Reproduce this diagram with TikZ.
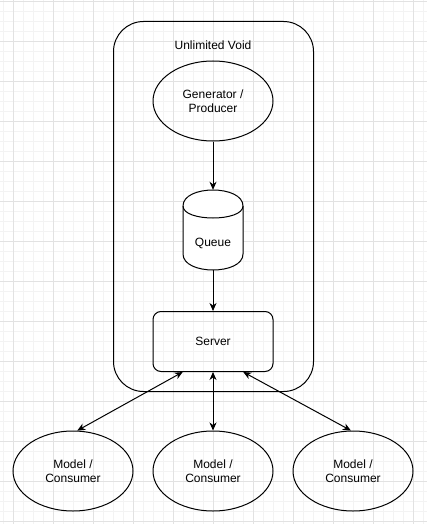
\documentclass[tikz,border=0pt]{standalone}
\usepackage{fontspec}
\setmainfont{Liberation Sans}
\usetikzlibrary{shapes.geometric,arrows.meta,calc}
\definecolor{gridminor}{HTML}{F3F3F3}
\definecolor{gridmajor}{HTML}{E2E2E2}
\tikzset{
  every node/.style={font=\fontsize{12}{14.5}\selectfont, align=center},
  shapeline/.style={draw=black, line width=1pt},
  ell/.style={shapeline, ellipse, inner sep=0pt, minimum width=120pt, minimum height=80pt},
  serverbox/.style={shapeline, rectangle, rounded corners=8pt, inner sep=0pt, minimum width=120pt, minimum height=60pt},
  voidbox/.style={shapeline, rectangle, rounded corners=30pt, inner sep=0pt, minimum width=200pt, minimum height=370pt},
  tip/.style={Stealth[length=8pt,width=7pt,inset=2.5pt]},
  flow/.style={line width=1pt, -{Stealth[length=8pt,width=7pt,inset=2.5pt]}},
  bothflow/.style={line width=1pt, {Stealth[length=8pt,width=7pt,inset=2.5pt]}-{Stealth[length=8pt,width=7pt,inset=2.5pt]}},
}
\begin{document}
\begin{tikzpicture}[x=1pt,y=-1pt]
\useasboundingbox (0,0) rectangle (427,524);
\fill[white] (0,0) rectangle (427,524);
% grid
\foreach \i in {0,...,43} {\draw[gridminor, line width=0.8pt] ({3.3+10*\i},0) -- ({3.3+10*\i},524);}
\foreach \j in {0,...,52} {\draw[gridminor, line width=0.8pt] (0,{1.7+10*\j}) -- (427,{1.7+10*\j});}
\foreach \i in {0,...,10} {\draw[gridmajor, line width=0.8pt] ({13.3+40*\i},0) -- ({13.3+40*\i},524);}
\foreach \j in {0,...,13} {\draw[gridmajor, line width=0.8pt] (0,{1.7+40*\j}) -- (427,{1.7+40*\j});}

% container
\node[voidbox] (void) at (213.5,206.5) {};
\node (voidlabel) at (213,45) {Unlimited Void};

% generator
\node[ell] (gen) at (213,101) {Generator /\\Producer};

% queue cylinder
\node[inner sep=0pt, minimum width=60pt, minimum height=80pt] (queue) at (213,230) {};
\draw[shapeline, fill=white] (183,206) .. controls (183,184.67) and (243,184.67) .. (243,206)
  -- (243,254) .. controls (243,275.33) and (183,275.33) .. (183,254) -- cycle;
\draw[shapeline] (183,206) .. controls (183,222) and (243,222) .. (243,206);
\node (queuelabel) at (213,243) {Queue};

% server
\node[serverbox] (server) at (213,341.5) {Server};

% consumers
\node[ell] (c1) at (73,471) {Model /\\Consumer};
\node[ell] (c2) at (213,471) {Model /\\Consumer};
\node[ell] (c3) at (353,471) {Model /\\Consumer};

% connectors
\draw[flow] (gen.south) -- (queue.north);
\draw[flow] (queue.south) -- (server.north);
\draw[bothflow] ($(server.south west)!0.25!(server.south east)$) -- (c1.84);
\draw[bothflow] (server.south) -- (c2.north);
\draw[bothflow] ($(server.south west)!0.75!(server.south east)$) -- (c3.93);
\end{tikzpicture}
\end{document}
